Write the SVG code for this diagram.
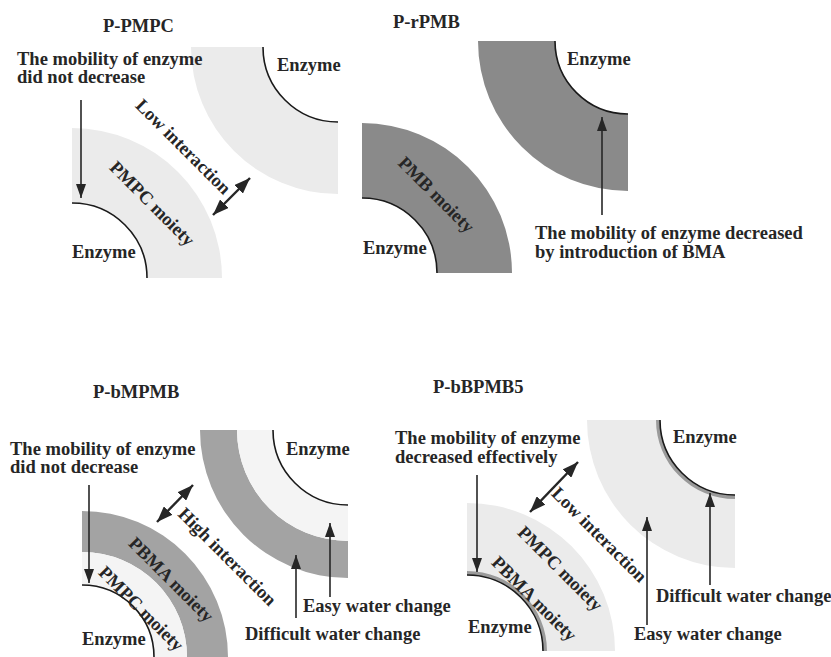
<svg xmlns="http://www.w3.org/2000/svg" width="831" height="657" viewBox="0 0 831 657">
<style>
text{font-family:"Liberation Serif","Times New Roman",serif;font-weight:bold;font-size:18.5px;fill:#262626}
.rot{text-anchor:middle}
.enz{fill:none;stroke:#1a1a1a;stroke-width:1.6}
.arr{stroke:#262626;stroke-width:1.6;fill:none;marker-end:url(#ah)}
.dbl{stroke:#262626;stroke-width:2.4;fill:none;marker-start:url(#ah2);marker-end:url(#ah2)}
.light{fill:#ebebeb}
.dark{fill:#8a8a8a}
.mid{fill:#a3a3a3}
.pale{fill:#f4f4f4}
.thin{fill:#9a9a9a}
</style>
<defs>
<marker id="ah" viewBox="0 0 14 10" refX="14" refY="5" markerWidth="14" markerHeight="10" markerUnits="userSpaceOnUse" orient="auto-start-reverse"><path d="M0,0 L14,5 L0,10 Z" fill="#262626"/></marker>
<marker id="ah2" viewBox="0 0 16 12" refX="16" refY="6" markerWidth="16" markerHeight="12" markerUnits="userSpaceOnUse" orient="auto-start-reverse"><path d="M0,0 L16,6 L0,12 Z" fill="#262626"/></marker>
</defs>
<rect width="831" height="657" fill="#ffffff"/>

<!-- Panel 1: P-PMPC -->
<g id="p1-title"><text x="103" y="32">P-PMPC</text></g>
<g id="p1-lower">
<path class="light" d="M72,128 A150,150 0 0 1 222,278 L147,278 A75,75 0 0 0 72,203 Z"/>
<path class="enz" d="M72,203 A75,75 0 0 1 147,278"/>
<text x="72" y="258">Enzyme</text>
<text class="rot" transform="translate(148,208) rotate(45)">PMPC moiety</text>
</g>
<g id="p1-upper">
<path class="light" d="M191,47 A147,147 0 0 0 338,194 L338,122 A75,75 0 0 1 263,47 Z"/>
<path class="enz" d="M263,47 A75,75 0 0 0 338,122"/>
<text x="277" y="71">Enzyme</text>
</g>
<g id="p1-note"><text x="17" y="65">The mobility of enzyme</text><text x="17" y="83">did not decrease</text></g>
<g id="p1-interaction"><text class="rot" transform="translate(179,151) rotate(45)">Low interaction</text></g>

<!-- Panel 2: P-rPMB -->
<g id="p2-title"><text x="393" y="28">P-rPMB</text></g>
<g id="p2-upper">
<path class="dark" d="M478,41 A150,150 0 0 0 628,191 L628,114 A73,73 0 0 1 555,41 Z"/>
<path class="enz" d="M555,41 A73,73 0 0 0 628,114"/>
<text x="567" y="65">Enzyme</text>
</g>
<g id="p2-lower">
<path class="dark" d="M362,123 A150,150 0 0 1 512,273 L437,273 A75,75 0 0 0 362,198 Z"/>
<path class="enz" d="M362,198 A75,75 0 0 1 437,273"/>
<text x="363" y="254">Enzyme</text>
<text class="rot" transform="translate(432,199) rotate(45)">PMB moiety</text>
</g>
<g id="p2-note"><text x="535" y="239">The mobility of enzyme decreased</text><text x="535" y="258">by introduction of BMA</text></g>

<!-- Panel 3: P-bMPMB -->
<g id="p3-title"><text x="93" y="398">P-bMPMB</text></g>
<g id="p3-lower">
<path class="mid" d="M82,511 A146,146 0 0 1 228,657 L187,657 A105,105 0 0 0 82,552 Z"/>
<path class="pale" d="M82,552 A105,105 0 0 1 187,657 L154,657 A72,72 0 0 0 82,585 Z"/>
<path class="enz" d="M82,585 A72,72 0 0 1 154,657"/>
<text x="82" y="645">Enzyme</text>
<text class="rot" transform="translate(167,584) rotate(45)">PBMA moiety</text>
<text class="rot" transform="translate(137,613) rotate(45)">PMPC moiety</text>
</g>
<g id="p3-upper">
<path class="mid" d="M200,430 A148,148 0 0 0 348,578 L348,541 A111,111 0 0 1 237,430 Z"/>
<path class="pale" d="M237,430 A111,111 0 0 0 348,541 L348,505 A75,75 0 0 1 273,430 Z"/>
<path class="enz" d="M273,430 A75,75 0 0 0 348,505"/>
<text x="286" y="455">Enzyme</text>
</g>
<g id="p3-note"><text x="10" y="455">The mobility of enzyme</text><text x="10" y="473">did not decrease</text></g>
<g id="p3-interaction"><text class="rot" transform="translate(223,561) rotate(45)">High interaction</text></g>
<g id="p3-water"><text x="303" y="612">Easy water change</text><text x="245" y="640">Difficult water change</text></g>

<!-- Panel 4: P-bBPMB5 -->
<g id="p4-title"><text x="433" y="393">P-bBPMB5</text></g>
<g id="p4-upper">
<path class="light" d="M587,420 A148,148 0 0 0 735,568 L735,495 A75,75 0 0 1 660,420 Z"/>
<path class="thin" d="M656,420 A79,79 0 0 0 735,499 L735,495 A75,75 0 0 1 660,420 Z"/>
<path class="enz" d="M660,420 A75,75 0 0 0 735,495"/>
<text x="673" y="443">Enzyme</text>
</g>
<g id="p4-lower">
<path class="light" d="M467,503 A148,148 0 0 1 615,651 L543,651 A76,76 0 0 0 467,575 Z"/>
<path class="thin" d="M467,571 A80,80 0 0 1 547,651 L543,651 A76,76 0 0 0 467,575 Z"/>
<path class="enz" d="M467,575 A76,76 0 0 1 543,651"/>
<text x="468" y="633">Enzyme</text>
<text class="rot" transform="translate(530,603) rotate(45)">PBMA moiety</text>
<text class="rot" transform="translate(556,573) rotate(45)">PMPC moiety</text>
</g>
<g id="p4-note"><text x="395" y="444">The mobility of enzyme</text><text x="395" y="463">decreased effectively</text></g>
<g id="p4-interaction"><text class="rot" transform="translate(595,539) rotate(45)">Low interaction</text></g>
<g id="p4-water"><text x="656" y="602">Difficult water change</text><text x="634" y="640">Easy water change</text></g>

<g id="connectors">
<line class="arr" x1="81" y1="100" x2="81" y2="198"/>
<line class="dbl" x1="213" y1="215" x2="250" y2="178"/>
<line class="arr" x1="602" y1="215" x2="602" y2="117"/>
<line class="arr" x1="89" y1="485" x2="89" y2="583"/>
<line class="dbl" x1="157" y1="522" x2="193" y2="485"/>
<line class="arr" x1="296" y1="618" x2="296" y2="555"/>
<line class="arr" x1="330" y1="597" x2="330" y2="523"/>
<line class="arr" x1="477" y1="475" x2="477" y2="572"/>
<line class="dbl" x1="530" y1="512" x2="578" y2="462"/>
<line class="arr" x1="647" y1="625" x2="647" y2="517"/>
<line class="arr" x1="710" y1="585" x2="710" y2="493"/>
</g>
</svg>
